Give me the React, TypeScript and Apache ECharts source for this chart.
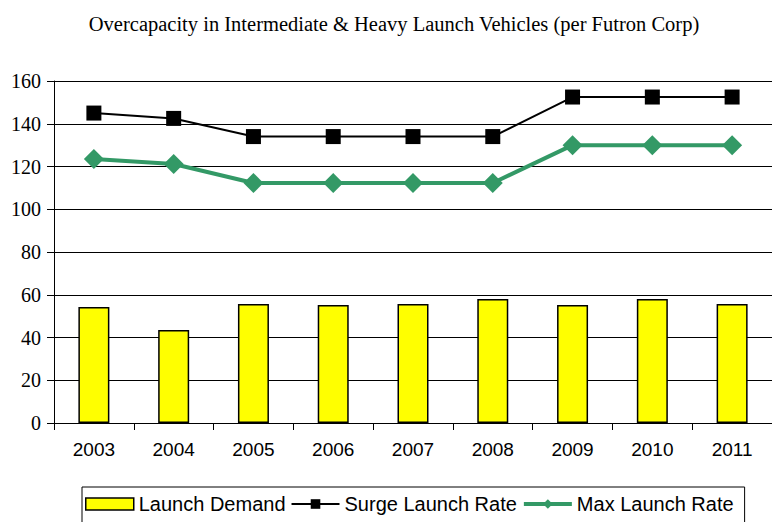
import React, { useEffect, useRef } from "react";
import * as echarts from "echarts";

const years = ["2003", "2004", "2005", "2006", "2007", "2008", "2009", "2010", "2011"];
const launchDemand = [54.3, 43.5, 55.7, 55.2, 55.7, 58, 55.2, 58, 55.7];
const surgeRate = [145, 142.5, 134, 134, 134, 134, 152.5, 152.5, 152.5];
const maxRate = [123.5, 121.2, 112.3, 112.3, 112.3, 112.3, 130, 130, 130];
const yTicks = { min: 0, max: 160, interval: 20 };

const SERIF = "Liberation Serif";
const SANS = "Liberation Sans";

export default function App() {
  const ref = useRef<HTMLDivElement>(null);
  useEffect(() => {
    if (!ref.current) return;
    const chart = echarts.init(ref.current, null, { renderer: "svg" });
    chart.setOption({
      animation: false,
      title: {
        text: "Overcapacity in Intermediate & Heavy Launch Vehicles (per Futron Corp)",
        left: 389,
        textAlign: "center",
        top: 8,
        textStyle: { fontFamily: SERIF, fontSize: 20.5, fontWeight: "normal", color: "#000" },
      },
      grid: { left: 54, top: 81, width: 720, height: 342, containLabel: false },
      legend: {
        left: 82,
        top: 487,
        padding: [7, 11, 14, 3],
        borderColor: "#000",
        borderWidth: 1,
        itemGap: 5,
        itemWidth: 48,
        itemHeight: 12,
        textStyle: { fontFamily: SANS, fontSize: 20, color: "#000" },
        data: [
          { name: "Launch Demand", icon: "rect", itemStyle: { color: "#ffff00", borderColor: "#000", borderWidth: 1.5 } },
          { name: "Surge Launch Rate", lineStyle: { width: 2, color: "#000" } },
          { name: "Max Launch Rate", lineStyle: { width: 4, color: "#339966" } },
        ],
      },
      xAxis: {
        type: "category",
        data: years,
        boundaryGap: true,
        axisLine: { lineStyle: { color: "#000", width: 1 } },
        axisTick: { show: true, length: 7, lineStyle: { color: "#000" } },
        axisLabel: { fontFamily: SANS, fontSize: 19, color: "#000", margin: 17 },
      },
      yAxis: {
        type: "value",
        min: yTicks.min,
        max: yTicks.max,
        interval: yTicks.interval,
        axisLine: { show: true, lineStyle: { color: "#000", width: 1 } },
        axisTick: { show: true, length: 7, lineStyle: { color: "#000" } },
        splitLine: { lineStyle: { color: "#000", width: 1 } },
        axisLabel: { fontFamily: SERIF, fontSize: 20, color: "#000", margin: 13 },
      },
      series: [
        {
          name: "Launch Demand",
          type: "bar",
          data: launchDemand,
          barWidth: 31,
          itemStyle: { color: "#ffff00", borderColor: "#000", borderWidth: 1.5 },
        },
        {
          name: "Surge Launch Rate",
          type: "line",
          data: surgeRate,
          symbol: "rect",
          symbolSize: 15,
          lineStyle: { color: "#000", width: 2 },
          itemStyle: { color: "#000" },
        },
        {
          name: "Max Launch Rate",
          type: "line",
          data: maxRate,
          symbol: "diamond",
          symbolSize: 20,
          lineStyle: { color: "#339966", width: 4 },
          itemStyle: { color: "#339966" },
        },
      ],
    });
    return () => chart.dispose();
  }, []);
  return <div ref={ref} style={{ width: 772, height: 522, position: "absolute", left: 0, top: 0 }} />;
}
